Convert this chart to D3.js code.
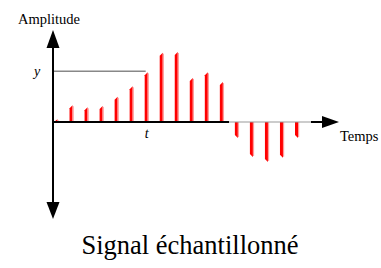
<!DOCTYPE html>
<html>
<head>
<meta charset="utf-8">
<script src="https://cdnjs.cloudflare.com/ajax/libs/d3/7.8.5/d3.min.js"></script>
<style>
  body { margin: 0; background: #fff; }
</style>
</head>
<body>
<div class="chart"></div>
<script>
       // samples (amplitude, max = 1)
       var samples = [0, 1, 2, 3, 4, 5, 6, 7, 8, 9, 10, 11, 12, 13, 14, 15, 16];
       var amplitude = [0.04, 0.24, 0.21, 0.23, 0.36, 0.51, 0.71, 0.99, 1.0, 0.63, 0.71, 0.57,
                        -0.23, -0.5, -0.57, -0.51, -0.23];
       var marked = 6;   // sample pointed by y / t

       var serif = "'Liberation Serif'";

       var width = 381,
           height = 268;

       var x = d3.scaleLinear()
                 .domain([0, 16])
                 .range([56.5, 297]);

       var y = d3.scaleLinear()
                 .domain([-1, 1])
                 .range([192, 52]);

       var svg = d3.select(".chart").append("svg")
                   .attr("width", width)
                   .attr("height", height);

       var x0 = 53, base = y(0);

       // horizontal guide to the marked sample
       svg.append("line")
          .attr("x1", x0).attr("x2", x(marked) - 1)
          .attr("y1", y(amplitude[marked]) - 1).attr("y2", y(amplitude[marked]) - 1)
          .attr("stroke", "#888").attr("stroke-width", 1.5);

       // samples
       var bar = svg.selectAll(".bar")
                    .data(amplitude)
                    .enter().append("g")
                    .attr("class", "bar");

       bar.append("path")
          .attr("fill", "#ff0000")
          .attr("d", function(d, i) {
              var l = x(i) - 2, r = x(i) + 1, v = y(d);
              var s = d > 0 ? 3 : -3;
              if (Math.abs(base - v) < 4) s = (base - v) * 0.8;
              return "M" + l + "," + base + "L" + l + "," + (v + s) + "L" + r + "," + v + "L" + r + "," + base + "Z";
          });

       bar.append("rect")
          .attr("fill", "#ff9c9c")
          .attr("x", function(d, i) { return x(i) + 1; })
          .attr("width", 1.2)
          .attr("y", function(d) { return d > 0 ? y(d) + 1 : base; })
          .attr("height", function(d) { return Math.max(0, Math.abs(base - y(d)) - 1); });

       // time axis
       svg.append("line")
          .attr("x1", x0).attr("x2", 229)
          .attr("y1", base).attr("y2", base)
          .attr("stroke", "#000").attr("stroke-width", 2);

       svg.append("line")
          .attr("x1", 229).attr("x2", 312)
          .attr("y1", base).attr("y2", base)
          .attr("stroke", "#999").attr("stroke-width", 1);

       svg.append("line")
          .attr("x1", 311).attr("x2", 324)
          .attr("y1", base).attr("y2", base)
          .attr("stroke", "#000").attr("stroke-width", 2);

       svg.append("path")
          .attr("d", "M322," + (base - 6) + "L339," + base + "L322," + (base + 6) + "Z")
          .attr("fill", "#000");

       // amplitude axis
       svg.append("line")
          .attr("x1", x0).attr("x2", x0)
          .attr("y1", 45).attr("y2", 205)
          .attr("stroke", "#000").attr("stroke-width", 2);

       svg.append("path")
          .attr("d", "M" + (x0 - 6.5) + ",48L" + x0 + ",30L" + (x0 + 6.5) + ",48Z")
          .attr("fill", "#000");

       svg.append("path")
          .attr("d", "M" + (x0 - 6.5) + ",202L" + x0 + ",219L" + (x0 + 6.5) + ",202Z")
          .attr("fill", "#000");

       // labels
       svg.append("text")
          .attr("x", 18).attr("y", 24)
          .style("font-family", serif)
          .style("font-size", "14.5px")
          .text("Amplitude");

       svg.append("text")
          .attr("x", 340).attr("y", 141)
          .style("font-family", serif)
          .style("font-size", "14.5px")
          .text("Temps");

       svg.append("text")
          .attr("x", 34).attr("y", 76)
          .style("font-family", serif)
          .style("font-size", "14px")
          .style("font-style", "italic")
          .text("y");

       svg.append("text")
          .attr("x", x(marked)).attr("y", 138)
          .attr("text-anchor", "middle")
          .style("font-family", serif)
          .style("font-size", "14px")
          .style("font-style", "italic")
          .text("t");

       svg.append("text")
          .attr("x", 190).attr("y", 254)
          .attr("text-anchor", "middle")
          .style("font-family", serif)
          .style("font-size", "26.5px")
          .text("Signal échantillonné");
</script>
</body>
</html>
